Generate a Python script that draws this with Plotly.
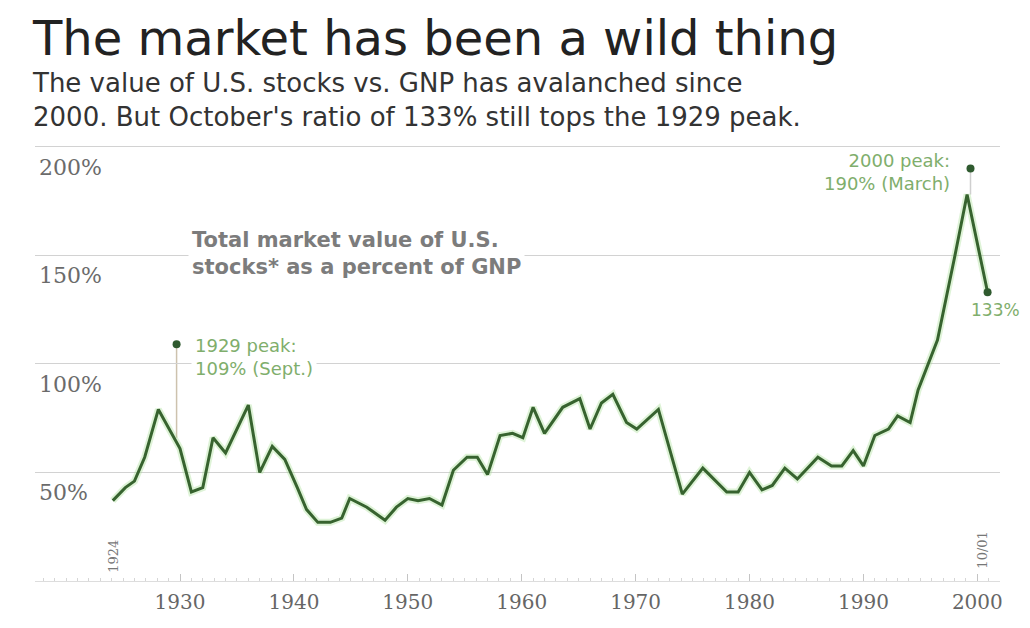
import plotly.graph_objects as go

# values (year, % of GNP)
YEARS = [1924.1, 1925.2, 1926.0, 1926.9, 1928.1, 1930.0, 1931.0, 1932.0, 1932.9, 1934.0,
         1936.0, 1937.0, 1938.1, 1939.2, 1940.3, 1941.1, 1942.1, 1943.2, 1944.2, 1944.9,
         1946.4, 1948.0, 1949.0, 1950.0, 1950.9, 1951.9, 1953.0, 1954.0, 1955.2, 1956.1,
         1957.0, 1958.1, 1959.2, 1960.1, 1961.0, 1962.0, 1963.6, 1965.1, 1966.0, 1967.0,
         1968.0, 1969.2, 1970.1, 1972.0, 1974.1, 1975.9, 1978.0, 1979.0, 1980.0, 1981.1,
         1982.0, 1983.1, 1984.2, 1986.0, 1987.2, 1988.1, 1989.1, 1990.0, 1991.0, 1992.2,
         1993.0, 1994.1, 1994.8, 1996.5, 1998.0, 1999.1, 2000.9]
PCT = [37, 43, 46, 57, 79, 61, 41, 43, 66, 59,
       81, 50, 62, 56, 43, 33, 27, 27, 29, 38,
       34, 28, 34, 38, 37, 38, 35, 51, 57, 57,
       49, 67, 68, 66, 80, 68, 80, 84, 70, 82,
       86, 73, 70, 79, 40, 52, 41, 41, 50, 42,
       44, 52, 47, 57, 53, 53, 60, 53, 67, 70,
       76, 73, 88, 111, 149, 178, 133]

PEAK_X = [1929.7, 1999.4, 2000.9]
PEAK_Y = [109, 190, 133]

GRID_VALS = [50, 100, 150, 200]
GRID_LABELS = ["50%", "100%", "150%", "200%"]
DECADES = [1930, 1940, 1950, 1960, 1970, 1980, 1990, 2000]

LINE_GREEN = "#37632f"
TEXT_GREEN = "#7fae6c"


def build_figure():
    fig = go.Figure()

    # soft halo under the line
    fig.add_trace(go.Scatter(
        x=YEARS, y=PCT, mode="lines",
        line=dict(color="rgba(160,220,140,0.35)", width=7),
        hoverinfo="skip", showlegend=False,
    ))
    fig.add_trace(go.Scatter(
        x=YEARS, y=PCT, mode="lines",
        line=dict(color=LINE_GREEN, width=3),
        hovertemplate="%{x:.1f}: %{y}%<extra></extra>",
        showlegend=False,
    ))

    # leader lines from the peak dots
    fig.add_shape(type="line", x0=PEAK_X[0], x1=PEAK_X[0], y0=66, y1=PEAK_Y[0],
                  line=dict(color="#cdc2ae", width=1.5), layer="below")
    fig.add_shape(type="line", x0=PEAK_X[1], x1=PEAK_X[1], y0=178, y1=PEAK_Y[1],
                  line=dict(color="#cfcfcf", width=1.5), layer="below")

    fig.add_trace(go.Scatter(
        x=PEAK_X, y=PEAK_Y, mode="markers",
        marker=dict(color="#2f5a2f", size=8),
        hoverinfo="skip", showlegend=False,
    ))

    # y labels sit just under each gridline
    for v, lab in zip(GRID_VALS, GRID_LABELS):
        fig.add_annotation(
            x=0.002, xref="paper", y=v, yref="y", text=lab,
            xanchor="left", yanchor="top", yshift=-6, showarrow=False,
            font=dict(family="DejaVu Serif", size=22, color="#6b6b6b"),
        )

    fig.add_annotation(
        x=1930.7, y=150.6, text="Total market value of U.S.<br>stocks* as a percent of GNP",
        xanchor="left", yanchor="middle", align="left", showarrow=False,
        bgcolor="white", borderpad=3,
        font=dict(family="DejaVu Sans", size=21, color="#7c7c7c", weight="bold"),
    )
    fig.add_annotation(
        x=1931.0, y=103, text="1929 peak:<br>109% (Sept.)",
        xanchor="left", yanchor="middle", align="left", showarrow=False,
        bgcolor="white", borderpad=3,
        font=dict(family="DejaVu Sans", size=18, color=TEXT_GREEN),
    )
    fig.add_annotation(
        x=1997.8, y=188.5, text="2000 peak:<br>190% (March)",
        xanchor="right", yanchor="middle", align="right", showarrow=False,
        font=dict(family="DejaVu Sans", size=18, color=TEXT_GREEN),
    )
    fig.add_annotation(
        x=2001.6, y=125, text="133%", xanchor="center", yanchor="middle",
        showarrow=False, font=dict(family="DejaVu Sans", size=17, color=TEXT_GREEN),
    )

    # rotated end-date labels
    fig.add_annotation(
        x=YEARS[0], y=11.5, text="1924", textangle=-90, showarrow=False,
        font=dict(family="DejaVu Serif", size=13, color="#777777"),
    )
    fig.add_annotation(
        x=YEARS[-1] - 0.4, y=14, text="10/01", textangle=-90, showarrow=False,
        font=dict(family="DejaVu Serif", size=13, color="#777777"),
    )

    # headline + subhead
    fig.add_annotation(
        x=-0.005, xref="paper", y=1.19, yref="paper",
        text="The market has been a wild thing",
        xanchor="left", yanchor="middle", showarrow=False,
        font=dict(family="DejaVu Sans", size=48, color="#222222"),
    )
    fig.add_annotation(
        x=-0.005, xref="paper", y=1.055, yref="paper",
        text="The value of U.S. stocks vs. GNP has avalanched since<br>"
             "2000. But October's ratio of 133% still tops the 1929 peak.",
        xanchor="left", yanchor="middle", align="left", showarrow=False,
        font=dict(family="DejaVu Sans", size=26, color="#333333"),
    )

    # page body adds 8px, so margins are shifted to keep the plot where the reference has it
    fig.update_layout(
        width=1030, height=628,
        margin=dict(l=27, r=38, t=117, b=55),
        paper_bgcolor="white", plot_bgcolor="white",
        showlegend=False,
    )

    fig.update_xaxes(
        range=[1917.27, 2001.99],
        tickvals=DECADES, ticktext=[str(d) for d in DECADES],
        ticks="inside", ticklen=7, tickcolor="#c4c4c4",
        minor=dict(dtick=1, ticks="inside", ticklen=3, tickcolor="#d6d6d6"),
        showline=True, linecolor="#dddddd", linewidth=1,
        showgrid=False, zeroline=False,
        tickfont=dict(family="DejaVu Serif", size=20, color="#666666"),
        ticklabelstandoff=3,
    )
    fig.update_yaxes(
        range=[0, 210],
        tickvals=GRID_VALS, showticklabels=False,
        showgrid=True, gridcolor="#d2d2d2", gridwidth=1.2,
        zeroline=False, showline=False,
    )
    return fig


def main():
    fig = build_figure()
    fig.write_html("out.html")


if __name__ == "__main__":
    main()
